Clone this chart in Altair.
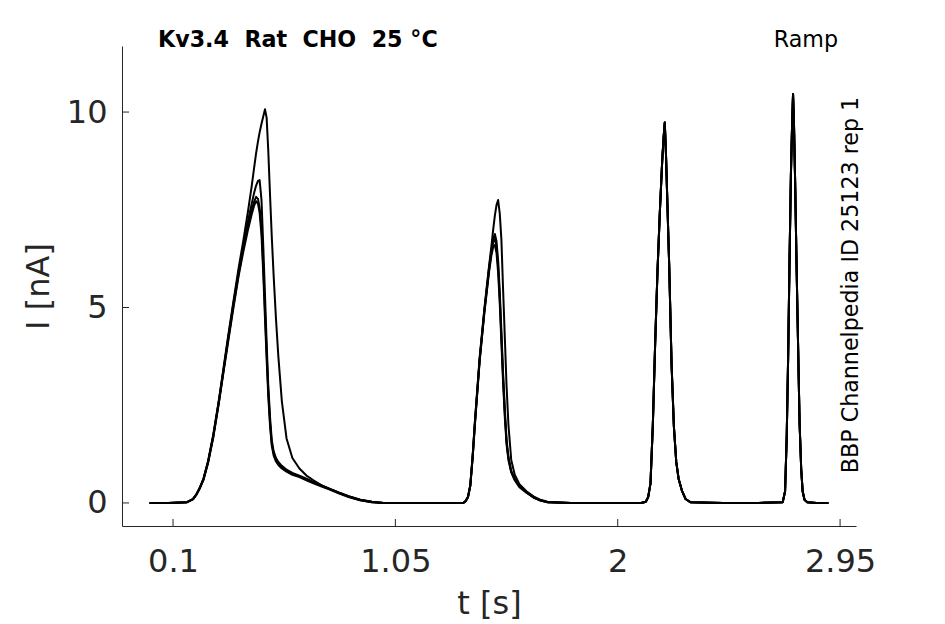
import altair as alt
import pandas as pd

# ---------------- data ----------------
x_ticks = [0.1, 1.05, 2, 2.95]
y_ticks = [0, 5, 10]

# segment 1: first ramp response (0 .. 1.3 s)
t1 = [0.00, 0.08, 0.16, 0.185, 0.20, 0.215, 0.23, 0.25, 0.272, 0.295, 0.315, 0.335, 0.357, 0.38, 0.40,
      0.42, 0.436, 0.446, 0.455, 0.463, 0.470, 0.478, 0.486, 0.493, 0.500, 0.507, 0.515, 0.522, 0.530,
      0.540, 0.550, 0.565, 0.585, 0.610, 0.640, 0.670, 0.700, 0.735, 0.770, 0.810, 0.850, 0.900, 0.950,
      1.00, 1.15, 1.30]
a1 = [0.00, 0.00, 0.02, 0.10, 0.22, 0.40, 0.62, 1.08, 1.75, 2.60, 3.42, 4.25, 5.12, 6.00, 6.70,
      7.45, 8.10, 8.55, 8.95, 9.25, 9.48, 9.70, 9.90, 10.07, 9.85, 9.00, 7.80, 6.80, 5.80,
      4.70, 3.75, 2.60, 1.65, 1.15, 0.88, 0.70, 0.58, 0.45, 0.36, 0.26, 0.17, 0.08, 0.03,
      0.00, 0.00, 0.00]
b1 = [0.00, 0.00, 0.02, 0.10, 0.22, 0.39, 0.61, 1.06, 1.72, 2.57, 3.38, 4.20, 5.06, 5.92, 6.58,
      7.20, 7.65, 7.92, 8.12, 8.24, 8.26, 7.75, 6.50, 5.30, 4.10, 3.00, 2.15, 1.60, 1.32,
      1.15, 1.05, 0.95, 0.85, 0.77, 0.70, 0.62, 0.54, 0.45, 0.36, 0.26, 0.17, 0.08, 0.03,
      0.00, 0.00, 0.00]
c1 = [0.00, 0.00, 0.02, 0.10, 0.22, 0.39, 0.60, 1.05, 1.70, 2.55, 3.35, 4.15, 5.00, 5.85, 6.50,
      7.08, 7.48, 7.70, 7.83, 7.78, 7.55, 7.05, 6.00, 4.90, 3.85, 2.85, 2.02, 1.52, 1.27,
      1.11, 1.01, 0.91, 0.82, 0.74, 0.68, 0.60, 0.52, 0.44, 0.35, 0.25, 0.16, 0.07, 0.02,
      0.00, 0.00, 0.00]
d1 = [0.00, 0.00, 0.02, 0.09, 0.21, 0.38, 0.59, 1.03, 1.68, 2.52, 3.32, 4.10, 4.95, 5.80, 6.42,
      6.98, 7.38, 7.60, 7.72, 7.66, 7.42, 6.85, 5.80, 4.70, 3.68, 2.72, 1.93, 1.46, 1.21,
      1.06, 0.97, 0.88, 0.80, 0.72, 0.66, 0.58, 0.50, 0.42, 0.34, 0.24, 0.15, 0.07, 0.02,
      0.00, 0.00, 0.00]

# segment 2: second ramp response (1.34 .. 2.05 s)
t2 = [1.34, 1.35, 1.36, 1.37, 1.38, 1.39, 1.41, 1.43, 1.45, 1.46, 1.468, 1.475, 1.482, 1.489, 1.496,
      1.503, 1.510, 1.518, 1.525, 1.533, 1.545, 1.560, 1.580, 1.610, 1.640, 1.670, 1.700, 1.80, 1.95, 2.05]
a2 = [0.00, 0.05, 0.15, 0.45, 1.20, 2.10, 3.72, 4.95, 6.05, 6.55, 7.00, 7.35, 7.62, 7.75, 7.40,
      6.73, 5.50, 4.17, 3.00, 2.00, 1.10, 0.72, 0.48, 0.30, 0.17, 0.08, 0.03, 0.00, 0.00, 0.00]
b2 = [0.00, 0.05, 0.15, 0.45, 1.18, 2.08, 3.68, 4.92, 6.00, 6.45, 6.75, 6.88, 6.70, 6.20, 5.40,
      4.40, 3.35, 2.35, 1.62, 1.18, 0.82, 0.62, 0.44, 0.28, 0.15, 0.07, 0.02, 0.00, 0.00, 0.00]
c2 = [0.00, 0.05, 0.15, 0.44, 1.16, 2.05, 3.65, 4.88, 5.95, 6.40, 6.68, 6.75, 6.55, 6.05, 5.25,
      4.25, 3.22, 2.25, 1.56, 1.14, 0.80, 0.60, 0.42, 0.27, 0.14, 0.06, 0.02, 0.00, 0.00, 0.00]
d2 = [0.00, 0.04, 0.14, 0.43, 1.14, 2.02, 3.62, 4.85, 5.90, 6.32, 6.55, 6.60, 6.40, 5.90, 5.10,
      4.10, 3.10, 2.15, 1.50, 1.10, 0.78, 0.58, 0.40, 0.26, 0.14, 0.06, 0.02, 0.00, 0.00, 0.00]

# segment 3: third and fourth ramp responses (identical in all sweeps)
t3 = [2.10, 2.12, 2.13, 2.14, 2.15, 2.16, 2.17, 2.18, 2.19, 2.196, 2.201, 2.206, 2.212, 2.22, 2.23,
      2.24, 2.25, 2.26, 2.275, 2.29, 2.31, 2.45, 2.60, 2.705, 2.715, 2.722, 2.728, 2.734, 2.740, 2.745,
      2.749, 2.753, 2.758, 2.764, 2.770, 2.777, 2.784, 2.790, 2.798, 2.81, 2.85, 2.90]
i3 = [0.00, 0.03, 0.15, 0.50, 2.00, 4.10, 5.95, 7.45, 8.75, 9.35, 9.73, 8.95, 7.70, 6.05, 3.55,
      1.95, 1.05, 0.62, 0.30, 0.10, 0.02, 0.00, 0.00, 0.02, 0.30, 1.70, 3.70, 6.20, 8.43, 9.70,
      10.46, 9.70, 8.20, 6.10, 4.20, 2.04, 0.85, 0.30, 0.08, 0.02, 0.00, 0.00]

title_text = "Kv3.4\u00a0\u00a0Rat\u00a0\u00a0CHO\u00a0\u00a025\u00a0°C"
protocol_text = "Ramp"
source_text = "BBP Channelpedia ID 25123 rep 1"

# ---------------- build table ----------------
sweeps = {"A": (a1, a2), "B": (b1, b2), "C": (c1, c2), "D": (d1, d2)}
rows = []
for name, (p1, p2) in sweeps.items():
    ts = t1 + t2 + t3
    vs = p1 + p2 + i3
    assert len(ts) == len(vs)
    for k, (t, v) in enumerate(zip(ts, vs)):
        rows.append({"sweep": name, "t": t, "i": v, "k": k})
df = pd.DataFrame(rows)

W, H = 734, 480
INK = "#262626"
x_scale = alt.Scale(domain=[-0.118, 3.018], nice=False, zero=False)
y_scale = alt.Scale(domain=[-0.59, 11.69], nice=False, zero=False)
x_axis = alt.Axis(values=x_ticks, labelExpr="'' + datum.value", title="t [s]",
                  labelPadding=20.5, titlePadding=10.5)
y_axis = alt.Axis(values=y_ticks, labelExpr="'' + datum.value", title="I [nA]",
                  labelPadding=15, titlePadding=10.5)

lines = alt.Chart(df).mark_line(color="black", strokeWidth=2, strokeJoin="round").encode(
    x=alt.X("t:Q", scale=x_scale, axis=x_axis),
    y=alt.Y("i:Q", scale=y_scale, axis=y_axis),
    detail="sweep:N",
    order="k:Q",
)

# inward-pointing tick marks, drawn at the tick values through the shared scales
xtick_rules = alt.Chart(pd.DataFrame({"tick": x_ticks})).mark_rule(color=INK, strokeWidth=1).encode(
    x=alt.X("tick:Q", scale=x_scale, axis=x_axis),
    y=alt.value(H), y2=alt.value(H - 7),
)
ytick_rules = alt.Chart(pd.DataFrame({"tick": y_ticks})).mark_rule(color=INK, strokeWidth=1).encode(
    y=alt.Y("tick:Q", scale=y_scale, axis=y_axis),
    x=alt.value(0), x2=alt.value(7),
)

FS = 22.2
title_mark = alt.Chart(pd.DataFrame({"s": [title_text]})).mark_text(
    font="DejaVu Sans", fontSize=FS, fontWeight="bold", align="left", baseline="alphabetic", color="black"
).encode(text="s:N", x=alt.value(36), y=alt.value(1))

protocol_mark = alt.Chart(pd.DataFrame({"s": [protocol_text]})).mark_text(
    font="DejaVu Sans", fontSize=FS, align="right", baseline="alphabetic", color="black"
).encode(text="s:N", x=alt.value(716), y=alt.value(1))

source_mark = alt.Chart(pd.DataFrame({"s": [source_text]})).mark_text(
    font="DejaVu Sans", fontSize=FS, align="center", baseline="middle", angle=270, color="black"
).encode(text="s:N", x=alt.value(729), y=alt.value(239))

chart = alt.layer(lines, xtick_rules, ytick_rules, title_mark, protocol_mark, source_mark).properties(
    width=W, height=H,
    autosize=alt.AutoSizeParams(type="none"),
    padding={"left": 114, "top": 38, "right": 60, "bottom": 98},
    background="white",
).configure_view(stroke=None).configure_axis(
    domainColor=INK, domainWidth=1, ticks=False, tickSize=0, grid=False,
    labelFont="DejaVu Sans", labelFontSize=32, labelColor=INK, labelFlush=False,
    titleFont="DejaVu Sans", titleFontSize=32, titleFontWeight="normal", titleColor=INK,
)

chart.save("out.html", embed_options={"renderer": "svg", "actions": False})
